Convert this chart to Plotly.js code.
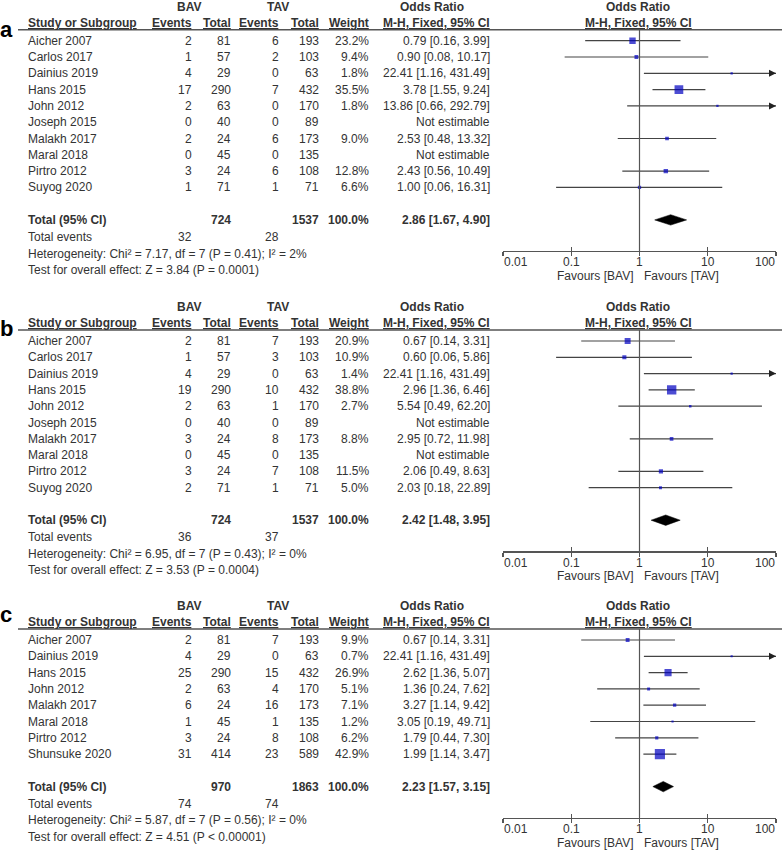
<!DOCTYPE html>
<html><head><meta charset="utf-8">
<script src="https://cdn.plot.ly/plotly-3.0.1.min.js"></script>
<style>body{margin:0;background:#fff}#chart{width:784px;height:852px}</style>
</head><body><div id="chart"></div>
<script>
// ---------- Panel a ----------
const studiesA   = ['Aicher 2007','Carlos 2017','Dainius 2019','Hans 2015','John 2012','Joseph 2015','Malakh 2017','Maral 2018','Pirtro 2012','Suyog 2020'];
const bavEventsA = [2,1,4,17,2,0,2,0,3,1];
const bavTotalA  = [81,57,29,290,63,40,24,45,24,71];
const tavEventsA = [6,2,0,7,0,0,6,0,6,1];
const tavTotalA  = [193,103,63,432,170,89,173,135,108,71];
const weightA    = [23.2,9.4,1.8,35.5,1.8,null,9.0,null,12.8,6.6];
const orA        = [0.79,0.90,22.41,3.78,13.86,null,2.53,null,2.43,1.00];
const lowerA     = [0.16,0.08,1.16,1.55,0.66,null,0.48,null,0.56,0.06];
const upperA     = [3.99,10.17,431.49,9.24,292.79,null,13.32,null,10.49,16.31];
const totalsA      = [724,1537];
const totalEventsA = [32,28];
const pooledA      = [2.86,1.67,4.90];
const hetA  = 'Heterogeneity: Chi\u00b2 = 7.17, df = 7 (P = 0.41); I\u00b2 = 2%';
const testA = 'Test for overall effect: Z = 3.84 (P = 0.0001)';

// ---------- Panel b ----------
const studiesB   = ['Aicher 2007','Carlos 2017','Dainius 2019','Hans 2015','John 2012','Joseph 2015','Malakh 2017','Maral 2018','Pirtro 2012','Suyog 2020'];
const bavEventsB = [2,1,4,19,2,0,3,0,3,2];
const bavTotalB  = [81,57,29,290,63,40,24,45,24,71];
const tavEventsB = [7,3,0,10,1,0,8,0,7,1];
const tavTotalB  = [193,103,63,432,170,89,173,135,108,71];
const weightB    = [20.9,10.9,1.4,38.8,2.7,null,8.8,null,11.5,5.0];
const orB        = [0.67,0.60,22.41,2.96,5.54,null,2.95,null,2.06,2.03];
const lowerB     = [0.14,0.06,1.16,1.36,0.49,null,0.72,null,0.49,0.18];
const upperB     = [3.31,5.86,431.49,6.46,62.20,null,11.98,null,8.63,22.89];
const totalsB      = [724,1537];
const totalEventsB = [36,37];
const pooledB      = [2.42,1.48,3.95];
const hetB  = 'Heterogeneity: Chi\u00b2 = 6.95, df = 7 (P = 0.43); I\u00b2 = 0%';
const testB = 'Test for overall effect: Z = 3.53 (P = 0.0004)';

// ---------- Panel c ----------
const studiesC   = ['Aicher 2007','Dainius 2019','Hans 2015','John 2012','Malakh 2017','Maral 2018','Pirtro 2012','Shunsuke 2020'];
const bavEventsC = [2,4,25,2,6,1,3,31];
const bavTotalC  = [81,29,290,63,24,45,24,414];
const tavEventsC = [7,0,15,4,16,1,8,23];
const tavTotalC  = [193,63,432,170,173,135,108,589];
const weightC    = [9.9,0.7,26.9,5.1,7.1,1.2,6.2,42.9];
const orC        = [0.67,22.41,2.62,1.36,3.27,3.05,1.79,1.99];
const lowerC     = [0.14,1.16,1.36,0.24,1.14,0.19,0.44,1.14];
const upperC     = [3.31,431.49,5.07,7.62,9.42,49.71,7.30,3.47];
const totalsC      = [970,1863];
const totalEventsC = [74,74];
const pooledC      = [2.23,1.57,3.15];
const hetC  = 'Heterogeneity: Chi\u00b2 = 5.87, df = 7 (P = 0.56); I\u00b2 = 0%';
const testC = 'Test for overall effect: Z = 4.51 (P < 0.00001)';

const tickVals = [0.01,0.1,1,10,100];
const tickText = ['0.01','0.1','1','10','100'];

// ---------- layout helpers ----------
const W = 784, H = 852;
const FONT = '"Liberation Sans", Arial, sans-serif';
const TXT = '#333';
const LINE = '#555';
const SP = 16.3;
const py = p => 1 - p / H;
const pxx = p => p / W;

const panels = [
  {label:'a', letterY:29.5, first:40.7, st:studiesA, be:bavEventsA, bt:bavTotalA, te:tavEventsA, tt:tavTotalA, w:weightA, or:orA, lo:lowerA, hi:upperA, tot:totalsA, ev:totalEventsA, pool:pooledA, het:hetA, test:testA},
  {label:'b', letterY:328,  first:341,  st:studiesB, be:bavEventsB, bt:bavTotalB, te:tavEventsB, tt:tavTotalB, w:weightB, or:orB, lo:lowerB, hi:upperB, tot:totalsB, ev:totalEventsB, pool:pooledB, het:hetB, test:testB},
  {label:'c', letterY:614.5,first:640,  st:studiesC, be:bavEventsC, bt:bavTotalC, te:tavEventsC, tt:tavTotalC, w:weightC, or:orC, lo:lowerC, hi:upperC, tot:totalsC, ev:totalEventsC, pool:pooledC, het:hetC, test:testC}
];

const traces = [];
const annotations = [];
const shapes = [];
const layout = {
  width: W, height: H,
  margin: {l:0, r:0, t:0, b:0},
  paper_bgcolor: '#fff', plot_bgcolor: 'rgba(0,0,0,0)',
  showlegend: false,
  font: {family: FONT, size: 12, color: TXT},
  annotations, shapes
};

function ann(text, xp, yp, anchor, opts) {
  opts = opts || {};
  annotations.push({
    text: text, xref: 'paper', yref: 'paper', x: pxx(xp), y: py(yp),
    xanchor: anchor, yanchor: 'middle', showarrow: false, borderpad: 0,
    font: {family: opts.family || FONT, size: opts.size || 12, color: opts.color || TXT,
           weight: opts.bold ? 'bold' : 'normal'}
  });
}
const fmt2 = v => v.toFixed(2);
const orText = (o, l, h) => o == null ? 'Not estimable' : fmt2(o) + ' [' + fmt2(l) + ', ' + fmt2(h) + ']';

const COL = {name:27, be:193, bt:232, te:280, tt:320, w:370, or:491, bav:189, tav:278, orHdr:432, plotC:638};
const PLOT_L = 503, PLOT_R = 776;

panels.forEach((d, k) => {
  const n = d.st.length;
  const first = d.first;
  const lastPx = first + (n - 1) * SP;
  const totPx = lastPx + 32.5;
  const evPx = totPx + 17;
  const hetPx = evPx + 16.8;
  const testPx = hetPx + 16.3;
  const axisPx = totPx + 31;
  const linePx = first - 11;
  const colHdrPx = first - 18;
  const grpHdrPx = first - 34;

  const xa = k === 0 ? 'x' : 'x' + (k + 1);
  const ya = k === 0 ? 'y' : 'y' + (k + 1);
  const xo = 'x' + (k + 4);
  const xKey = 'xaxis' + (k === 0 ? '' : k + 1);
  const yKey = 'yaxis' + (k === 0 ? '' : k + 1);
  const xoKey = 'xaxis' + (k + 4);

  const xdom = [pxx(PLOT_L), pxx(PLOT_R)];
  layout[xKey] = {
    type: 'log', range: [-2, 2], domain: xdom, anchor: ya,
    tickmode: 'array', tickvals: tickVals, ticktext: tickText, showticklabels: false,
    ticks: 'outside', ticklen: 4, tickwidth: 1.3, tickcolor: LINE,
    showline: true, linecolor: LINE, linewidth: 1.3,
    showgrid: false, zeroline: false, fixedrange: true
  };
  layout[xoKey] = {
    type: 'log', range: [-2, 2], domain: xdom, anchor: ya, overlaying: xa,
    tickmode: 'array', tickvals: tickVals,
    ticks: 'inside', ticklen: 4, tickwidth: 1.3, tickcolor: LINE,
    showticklabels: false, showline: false, showgrid: false, zeroline: false, fixedrange: true
  };
  const yTop = (linePx - first) / SP;
  const yBot = (axisPx - first) / SP;
  layout[yKey] = {
    domain: [py(axisPx), py(linePx)], range: [yBot, yTop], anchor: xa,
    visible: false, fixedrange: true
  };
  const yTot = (totPx - first) / SP;

  // tick labels placed on the log axis (end labels inset like the original)
  tickVals.forEach((v, i) => {
    annotations.push({
      text: tickText[i], xref: xa, yref: 'paper', x: Math.log10(v), y: py(axisPx + 11.5),
      xanchor: i === 0 ? 'left' : (i === tickVals.length - 1 ? 'right' : 'center'),
      yanchor: 'middle', showarrow: false, borderpad: 0,
      font: {family: FONT, size: 12, color: TXT}
    });
  });

  // CI lines
  const lx = [], ly = [];
  const mx = [], my = [], ms = [];
  const axx = [], ayy = [];
  for (let i = 0; i < n; i++) {
    if (d.or[i] == null) continue;
    lx.push(d.lo[i], Math.min(d.hi[i], 100), null);
    ly.push(i, i, null);
    mx.push(d.or[i]); my.push(i); ms.push(2 + 0.19 * d.w[i]);
    if (d.hi[i] > 100) { axx.push(100); ayy.push(i); }
  }
  traces.push({type:'scatter', mode:'lines', x: lx, y: ly, xaxis: xa, yaxis: ya,
    line: {color: '#444', width: 1.2}, hoverinfo: 'skip'});
  traces.push({type:'scatter', mode:'markers', x: mx, y: my, xaxis: xa, yaxis: ya,
    marker: {symbol: 'square', size: ms, color: '#0000c0', line: {width: 0}}, hoverinfo: 'skip'});
  traces.push({type:'scatter', mode:'markers', x: axx, y: ayy, xaxis: xa, yaxis: ya, cliponaxis: false,
    marker: {symbol: 'arrow-right', size: 7, color: '#222', line: {width: 0}}, hoverinfo: 'skip'});
  // pooled diamond
  const p = d.pool;
  traces.push({type:'scatter', mode:'lines', fill:'toself', fillcolor:'#000',
    x: [p[1], p[0], p[2], p[0], p[1]], y: [yTot, yTot - 0.32, yTot, yTot + 0.32, yTot],
    xaxis: xa, yaxis: ya, line: {color: '#000', width: 0.5}, hoverinfo: 'skip'});
  // dummy trace for overlay axis
  traces.push({type:'scatter', mode:'markers', x: [1], y: [0], xaxis: xo, yaxis: ya,
    marker: {opacity: 0}, hoverinfo: 'skip'});

  // vertical line at OR = 1
  shapes.push({type:'line', xref: xa, yref: ya + ' domain', x0: 1, x1: 1, y0: 0, y1: 1,
    line: {color: LINE, width: 1.2}});
  // header rule
  shapes.push({type:'line', xref:'paper', yref:'paper', x0: pxx(18), x1: pxx(782), y0: py(linePx), y1: py(linePx),
    line: {color: LINE, width: 1.4}});

  // panel letter
  ann(d.label, 6, d.letterY, 'center', {size: 22, color: '#000', bold: true});

  // group headers
  ann('BAV', COL.bav, grpHdrPx, 'center', {bold: true});
  ann('TAV', COL.tav, grpHdrPx, 'center', {bold: true});
  ann('Odds Ratio', COL.orHdr, grpHdrPx, 'center', {bold: true});
  ann('Odds Ratio', COL.plotC, grpHdrPx, 'center', {bold: true});
  // column headers
  ann('<u>Study or Subgroup</u>', COL.name, colHdrPx, 'left', {bold: true});
  ann('<u>Events</u>', COL.be, colHdrPx, 'right', {bold: true});
  ann('<u>Total</u>', COL.bt, colHdrPx, 'right', {bold: true});
  ann('<u>Events</u>', COL.te, colHdrPx, 'right', {bold: true});
  ann('<u>Total</u>', COL.tt, colHdrPx, 'right', {bold: true});
  ann('<u>Weight</u>', COL.w, colHdrPx, 'right', {bold: true});
  ann('<u>M-H, Fixed, 95% CI</u>', COL.or, colHdrPx, 'right', {bold: true});
  ann('<u>M-H, Fixed, 95% CI</u>', COL.plotC, colHdrPx, 'center', {bold: true});

  // study rows
  for (let i = 0; i < n; i++) {
    const yp = first + i * SP;
    ann(d.st[i], COL.name, yp, 'left');
    ann(String(d.be[i]), COL.be, yp, 'right');
    ann(String(d.bt[i]), COL.bt, yp, 'right');
    ann(String(d.te[i]), COL.te, yp, 'right');
    ann(String(d.tt[i]), COL.tt, yp, 'right');
    if (d.w[i] != null) ann(d.w[i].toFixed(1) + '%', COL.w, yp, 'right');
    ann(orText(d.or[i], d.lo[i], d.hi[i]), COL.or, yp, 'right');
  }
  // totals
  ann('Total (95% CI)', COL.name, totPx, 'left', {bold: true});
  ann(String(d.tot[0]), COL.bt, totPx, 'right', {bold: true});
  ann(String(d.tot[1]), COL.tt, totPx, 'right', {bold: true});
  ann('100.0%', COL.w, totPx, 'right', {bold: true});
  ann(orText(p[0], p[1], p[2]), COL.or, totPx, 'right', {bold: true});
  ann('Total events', COL.name, evPx, 'left');
  ann(String(d.ev[0]), COL.be, evPx, 'right');
  ann(String(d.ev[1]), COL.te, evPx, 'right');
  ann(d.het, COL.name, hetPx, 'left');
  ann(d.test, COL.name, testPx, 'left');
  // favours labels
  ann('Favours [BAV]', 634, axisPx + 25, 'right');
  ann('Favours [TAV]', 643, axisPx + 25, 'left');
});

Plotly.newPlot('chart', traces, layout, {staticPlot: true, displayModeBar: false});
</script>
</body></html>
